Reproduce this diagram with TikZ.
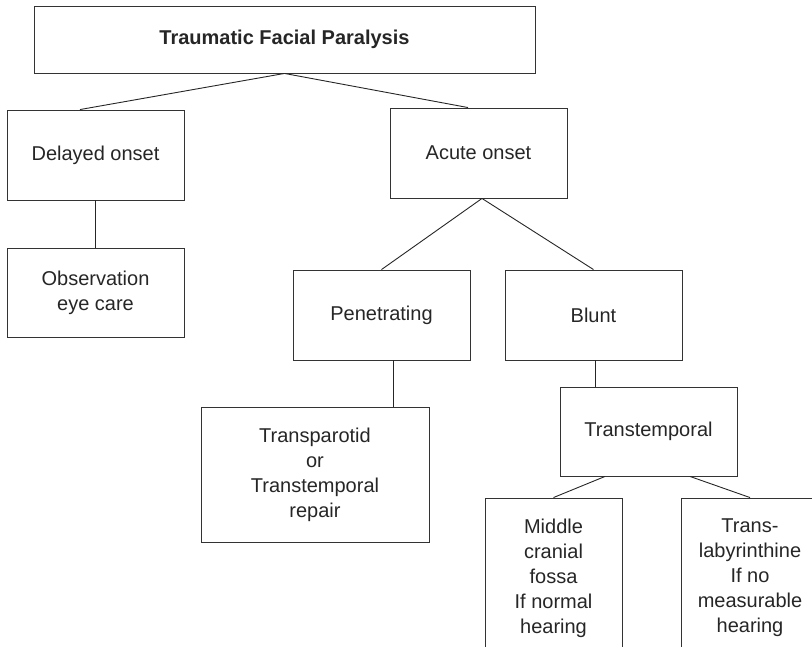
\documentclass[tikz,border=0pt]{standalone}
\usepackage{fontspec}
\setmainfont{Liberation Sans}
\usetikzlibrary{shapes,arrows}
\tikzstyle{box} = [draw=black!80, line width=0.9pt, rectangle, inner sep=0pt, align=center, text=black!85, font=\fontsize{20}{25}\selectfont]
\tikzstyle{line} = [draw=black!85, line width=0.9pt]

\begin{document}
\begin{tikzpicture}[x=1pt,y=-1pt]
    % Picture frame, cut at the page edge
    \useasboundingbox (0,0) rectangle (812,647);
    \clip (0,0) rectangle (812,647);
    % Draw the boxes
    \node[box, minimum width=501, minimum height=67, font=\bfseries\fontsize{20}{25}\selectfont] (trauma) at (284.5,39.5) {Traumatic Facial Paralysis};
    \node[box, minimum width=177, minimum height=90] (delayed) at (95.5,155) {Delayed onset};
    \node[box, minimum width=177, minimum height=89] (observ) at (95.5,292.5) {Observation\\eye care};
    \node[box, minimum width=177, minimum height=90] (acute) at (478.5,153) {Acute onset};
    \node[box, minimum width=177, minimum height=90] (penetr) at (381.5,315) {Penetrating};
    \node[box, minimum width=177, minimum height=90] (blunt) at (593.5,315) {Blunt};
    \node[box, minimum width=228, minimum height=135] (parotid) at (315,474.5) {Transparotid\\or\\Transtemporal\\repair};
    \node[box, minimum width=177, minimum height=89] (temporal) at (648.5,431.5) {Transtemporal};
    \node[box, minimum width=137, minimum height=160] (fossa) at (553.5,578) {Middle\\cranial\\fossa\\If normal\\hearing};
    \node[box, minimum width=138, minimum height=160] (labyr) at (750,578) {Trans-\\labyrinthine\\If no\\measurable\\hearing};
    % Draw the connectors
    \path[line] (trauma.south) -- ([xshift=-15.5]delayed.north);
    \path[line] (trauma.south) -- ([xshift=-10.5]acute.north);
    \path[line] (delayed.south) -- (observ.north);
    \path[line] ([xshift=3.5]acute.south) -- (penetr.north);
    \path[line] ([xshift=3.5]acute.south) -- (blunt.north);
    \path[line] ([xshift=11.5]penetr.south) -- ([xshift=11.5]penetr.south |- parotid.north);
    \path[line] ([xshift=1.5]blunt.south) -- ([xshift=1.5]blunt.south |- temporal.north);
    \path[line] ([xshift=-43.5]temporal.south) -- (fossa.north);
    \path[line] ([xshift=41.5]temporal.south) -- (labyr.north);
\end{tikzpicture}
\end{document}
